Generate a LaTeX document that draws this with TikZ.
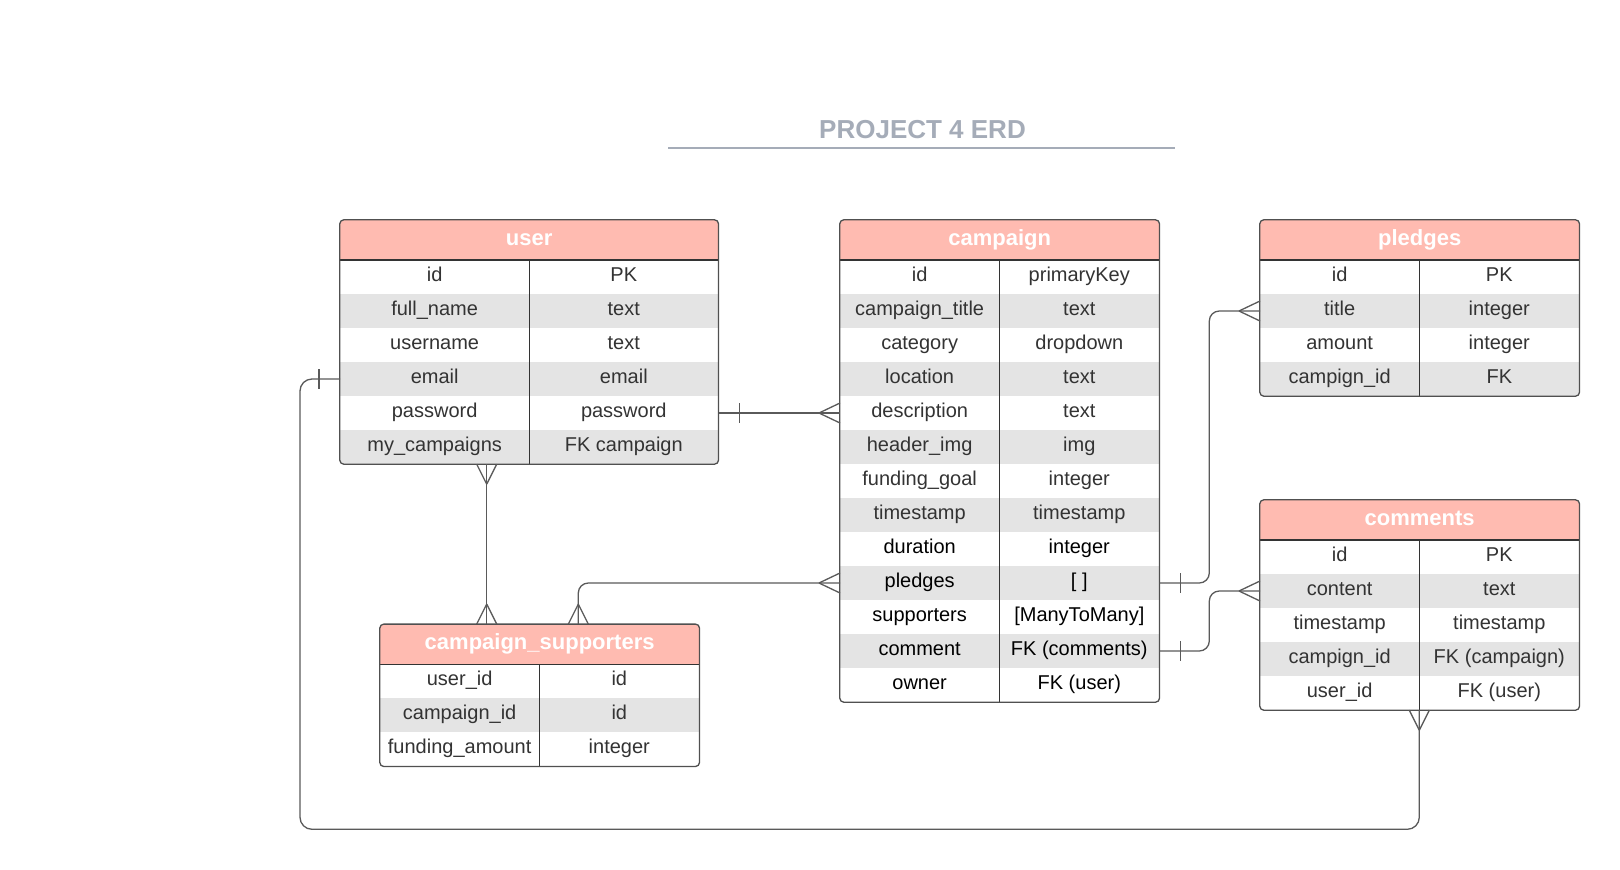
\documentclass[tikz,border=0pt]{standalone}
\usepackage{fontspec}
\setmainfont{Liberation Sans}
\usetikzlibrary{calc}
\definecolor{hdr}{HTML}{FFBBB1}
\definecolor{rowgrey}{HTML}{E4E4E4}
\definecolor{txt}{HTML}{333333}
\definecolor{edge}{HTML}{505050}
\definecolor{lnk}{HTML}{5A5A5A}
\definecolor{ttl}{HTML}{A5ACB8}
\tikzset{
  celltext/.style={font=\fontsize{20}{24}\selectfont, text=txt, anchor=base, inner sep=0pt},
  hdrtext/.style={font=\fontsize{22}{26}\selectfont\bfseries, text=white, anchor=base, inner sep=0pt},
  tblborder/.style={draw=edge, line width=1.3pt, rounded corners=4pt},
  tblrule/.style={draw=black!80, line width=1.1pt},
  conn/.style={draw=lnk, line width=1.3pt},
  titletext/.style={font=\fontsize{26}{30}\selectfont\bfseries, text=ttl, anchor=base, inner sep=0pt}
}
% #1 name #2 left #3 top #4 right #5 divider #6 nrows #7 first dark row #8 title #9 rows
\newcommand\erdtable[9]{%
  \pgfmathsetmacro\tb{#3+40+34*#6}
  \begin{scope}
    \clip[rounded corners=4pt] (#2,#3) rectangle (#4,\tb);
    \fill[white] (#2,#3) rectangle (#4,\tb);
    \fill[hdr] (#2,#3) rectangle (#4,#3+40);
    \foreach \a/\b [count=\i] in {#9} {
      \ifodd\i\else \fill[rowgrey] (#2,{#3+40+34*(\i-1)}) rectangle (#4,{#3+40+34*\i}); \fi
    }
  \end{scope}
  \node[inner sep=0pt, minimum width={#4-#2}, minimum height={\tb-#3}] (#1) at ({(#2+#4)/2},{(#3+\tb)/2}) {};
  \node[hdrtext] (#1-title) at ({(#2+#4)/2},#3+25.6) {#8};
  \foreach \a/\b [count=\i] in {#9} {
    \pgfmathsetmacro\yc{#3+40+34*(\i-0.5)}
    \pgfmathsetmacro\yb{\yc+4.6}
    \ifnum\i<#7 \def\tc{txt}\else\def\tc{black}\fi
    \coordinate (#1-\i) at (#2,\yc);
    \node[celltext, text=\tc] (#1-\i-a) at ({(#2+#5)/2},\yb) {\a};
    \node[celltext, text=\tc] (#1-\i-b) at ({(#5+#4)/2},\yb) {\b};
  }
  \draw[tblrule] (#2,#3+40) -- (#4,#3+40);
  \draw[tblrule] (#5,#3+40) -- (#5,\tb);
  \draw[tblborder] (#1.north west) rectangle (#1.south east);
}
\newcommand\erdCrowL[1]{\draw[conn] ([shift={(-21,0)}]#1) -- ([shift={(0,-10)}]#1) ([shift={(-21,0)}]#1) -- ([shift={(0,10)}]#1);}
\newcommand\erdCrowU[1]{\draw[conn] ([shift={(0,-20)}]#1) -- ([shift={(-10,0)}]#1) ([shift={(0,-20)}]#1) -- ([shift={(10,0)}]#1);}
\newcommand\erdCrowD[1]{\draw[conn] ([shift={(0,20)}]#1) -- ([shift={(-10,0)}]#1) ([shift={(0,20)}]#1) -- ([shift={(10,0)}]#1);}
\newcommand\erdBarR[1]{\draw[conn] ([shift={(21,-10)}]#1) -- ([shift={(21,10)}]#1);}
\newcommand\erdBarL[1]{\draw[conn] ([shift={(-21,-10)}]#1) -- ([shift={(-21,10)}]#1);}
\begin{document}
\begin{tikzpicture}[x=1pt,y=-1pt]
\useasboundingbox (0,0) rectangle (1620,870);
\fill[white] (0,0) rectangle (1620,870);
% title
\node[titletext] (title) at (922.5,138) {PROJECT 4 ERD};
\coordinate (tl) at (668,147.7);
\coordinate (tr) at (1175,147.7);
\draw[draw=ttl, line width=1.8pt] (tl) -- (tr);
% tables
\erdtable{user}{340}{220}{718.3}{529.3}{6}{99}{user}{id/PK, full\_name/text, username/text, email/email, password/password, my\_campaigns/FK campaign}
\erdtable{campaign}{840}{220}{1159.3}{999.3}{13}{9}{campaign}{id/primaryKey, campaign\_title/text, category/dropdown, location/text, description/text, header\_img/img, funding\_goal/integer, timestamp/timestamp, duration/integer, pledges/{[ ]}, supporters/{[ManyToMany]}, comment/FK (comments), owner/FK (user)}
\erdtable{pledges}{1260}{220}{1579.3}{1419.3}{4}{99}{pledges}{id/PK, title/integer, amount/integer, campign\_id/FK}
\erdtable{comments}{1260}{500}{1579.3}{1419.3}{5}{99}{comments}{id/PK, content/text, timestamp/timestamp, campign\_id/FK (campaign), user\_id/FK (user)}
\erdtable{supporters}{380}{624.3}{699.3}{539.3}{3}{99}{campaign\_supporters}{user\_id/id, campaign\_id/id, funding\_amount/integer}
% helper x positions
\coordinate (k2) at (486.7,0);
\coordinate (k3) at (578.3,0);
\coordinate (k4) at (1209.3,0);
\coordinate (k6) at (300,0);
\coordinate (k6b) at (0,829.3);
\coordinate (k7) at (1419.3,0);
% 1: user.password -> campaign.description
\coordinate (p1) at (user.east |- user-5);
\draw[conn] (p1) -- (campaign-5);
\erdBarR{p1}
\erdCrowL{campaign-5}
% 2: user -> campaign_supporters
\coordinate (p2a) at (user.south -| k2);
\coordinate (p2b) at (supporters.north -| k2);
\draw[conn] (p2a) -- (p2b);
\erdCrowD{p2a}
\erdCrowU{p2b}
% 3: campaign.pledges -> campaign_supporters
\coordinate (p3) at (supporters.north -| k3);
\draw[conn, rounded corners=10pt] (campaign-10) -| (p3);
\erdCrowL{campaign-10}
\erdCrowU{p3}
% 4: campaign.pledges -> pledges.title
\coordinate (p4) at (campaign.east |- campaign-10);
\draw[conn, rounded corners=10pt] (p4) -- (k4 |- p4) -- (k4 |- pledges-2) -- (pledges-2);
\erdBarR{p4}
\erdCrowL{pledges-2}
% 5: campaign.comment -> comments.content
\coordinate (p5) at (campaign.east |- campaign-12);
\draw[conn, rounded corners=10pt] (p5) -- (k4 |- p5) -- (k4 |- comments-2) -- (comments-2);
\erdBarR{p5}
\erdCrowL{comments-2}
% 6: user.email -> comments.user_id
\coordinate (p6) at (comments.south -| k7);
\draw[conn, rounded corners=12pt] (user-4) -- (k6 |- user-4) -- (k6 |- k6b) -- (k7 |- k6b) -- (p6);
\erdBarL{user-4}
\erdCrowD{p6}
\end{tikzpicture}
\end{document}
